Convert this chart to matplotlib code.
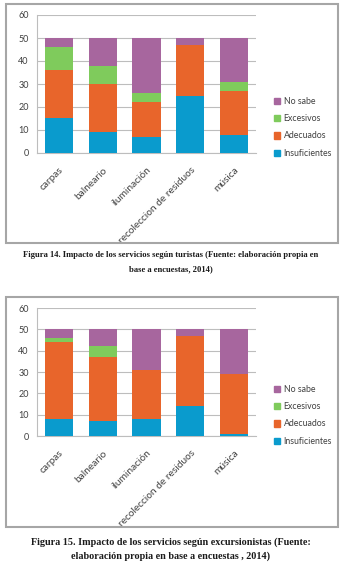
import matplotlib.pyplot as plt
from matplotlib.patches import Rectangle, Patch
import numpy as np

servicios = ['carpas', 'balneario', 'iluminación', 'recoleccion de residuos', 'música']
series = ['Insuficientes', 'Adecuados', 'Excesivos', 'No sabe']
colores = ['#0A9BCD', '#E8652B', '#7FCB5C', '#A7669E']

# turistas
tur_insuf = [15, 9, 7, 25, 8]
tur_adec = [21, 21, 15, 22, 19]
tur_exc = [10, 8, 4, 0, 4]
tur_nosabe = [4, 12, 24, 3, 19]

# excursionistas
exc_insuf = [8, 7, 8, 14, 1]
exc_adec = [36, 30, 23, 33, 28]
exc_exc = [2, 5, 0, 0, 0]
exc_nosabe = [4, 8, 19, 3, 21]

caption1 = ('Figura 14. Impacto de los servicios según turistas (Fuente: elaboración propia en\n'
            'base a encuestas, 2014)')
caption2 = ('Figura 15. Impacto de los servicios según excursionistas (Fuente:\n'
            'elaboración propia en base a encuestas , 2014)')

W, H = 342, 569
fig = plt.figure(figsize=(W / 100, H / 100), dpi=100)
fig.patch.set_facecolor('white')


def px(x0, y0, x1, y1):
    # pixel box (top-left origin) -> figure fraction rect
    return [x0 / W, 1 - y1 / H, (x1 - x0) / W, (y1 - y0) / H]


def stacked(ax, data, legend_top):
    x = np.arange(len(servicios))
    bottom = np.zeros(len(servicios))
    for vals, name, c in zip(data, series, colores):
        ax.bar(x, vals, 0.64, bottom=bottom, color=c, label=name, zorder=3)
        bottom += np.array(vals)
    ax.set_ylim(0, 60)
    ax.set_xlim(-0.5, len(servicios) - 0.5)
    ax.set_yticks(range(0, 61, 10))
    ax.yaxis.grid(True, color='#BDBDBD', lw=0.8, zorder=0)
    for s in ['top', 'right']:
        ax.spines[s].set_visible(False)
    for s in ['left', 'bottom']:
        ax.spines[s].set_color('#BDBDBD')
        ax.spines[s].set_linewidth(0.8)
    ax.tick_params(length=0, labelsize=6.5, colors='#404040')
    ax.tick_params(axis='y', pad=6)
    ax.tick_params(axis='x', pad=9, labelsize=7.3)
    ax.set_xticks(x)
    ax.set_xticklabels(servicios, rotation=45, ha='right', rotation_mode='anchor')
    handles = [Patch(color=c, label=n) for n, c in zip(series, colores)][::-1]
    ax.legend(handles=handles, loc='upper left', frameon=False, fontsize=6.3,
              bbox_to_anchor=(266 / W, 1 - legend_top / H), bbox_transform=fig.transFigure,
              handlelength=0.75, handleheight=0.75, handletextpad=0.35, labelspacing=0.95,
              labelcolor='#404040')


plt.rcParams['font.family'] = ['Lato', 'DejaVu Sans']

ax1 = fig.add_axes(px(37, 15, 256, 153))
stacked(ax1, [tur_insuf, tur_adec, tur_exc, tur_nosabe], 89)
ax2 = fig.add_axes(px(37, 308, 256, 436))
stacked(ax2, [exc_insuf, exc_adec, exc_exc, exc_nosabe], 377)

# grey frames around each chart
for y0, y1 in [(4, 243), (297, 527)]:
    fig.patches.append(Rectangle((6 / W, 1 - y1 / H), 332 / W, (y1 - y0) / H,
                                 transform=fig.transFigure, fill=False,
                                 edgecolor='#A6A6A6', lw=1.5))

fig.text(0.5, 1 - 262 / H, caption1, ha='center', va='center', fontsize=6.25,
         family='Liberation Serif', weight='bold', linespacing=1.9, color='#1A1A1A')
fig.text(0.5, 1 - 549 / H, caption2, ha='center', va='center', fontsize=7.3,
         family='Liberation Serif', weight='bold', linespacing=1.6, color='#1A1A1A')

fig.savefig('out.png', dpi=100)
